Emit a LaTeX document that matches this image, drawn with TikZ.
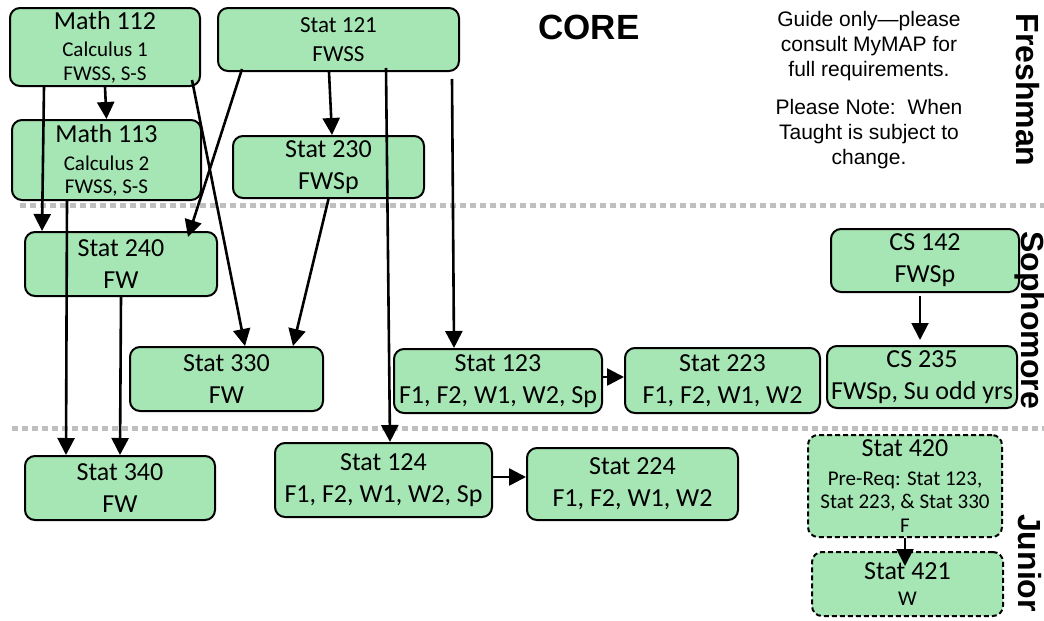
\documentclass[tikz,border=0pt]{standalone}
\usepackage{fontspec}
\setmainfont{Carlito}
\newfontfamily\arialfont{Liberation Sans}
\usepackage{xcolor}
\definecolor{boxgreen}{RGB}{166,230,180}
\definecolor{sepgray}{RGB}{191,191,191}
\usetikzlibrary{arrows.meta}
\newcommand{\crsfont}{\fontsize{26}{32}\selectfont}
\newcommand{\smlfont}{\fontsize{21}{25}\selectfont}

\begin{document}
\begin{tikzpicture}[x=1pt, y=-1pt,
            course/.style = {draw,
            line width=2pt,
            rounded corners=10pt,
            fill=boxgreen,
            align=center, inner sep=0pt,
            font=\crsfont},
            elective/.style = {course, dash pattern=on 5pt off 3pt},
            prereq/.style = {line width=2.6pt, -{Triangle[length=17pt,width=17pt]}},
            yearsep/.style = {sepgray, line width=5pt, dash pattern=on 6pt off 4pt},
            year/.style = {font=\arialfont\bfseries\fontsize{32}{32}\selectfont, rotate=-90}]
        \useasboundingbox (0,0) rectangle (1044,621);

        % Year separators
        \draw[yearsep] (20,205) -- (1044,205);
        \draw[yearsep] (12,428) -- (1044,428);

        % Freshman
        \node[course, minimum width=190pt, minimum height=78pt] (m112) at (105,47)
            {Math 112\\[-5pt]{\smlfont Calculus 1}\\[-8pt]{\smlfont FWSS, S-S}};
        \node[course, minimum width=241pt, minimum height=63pt,
            font=\fontsize{23}{29}\selectfont] (s121) at (338.5,39.5) {Stat 121\\FWSS};
        \node[course, minimum width=189pt, minimum height=80pt] (m113) at (106.5,160)
            {Math 113\\[-4pt]{\smlfont Calculus 2}\\[-9pt]{\smlfont FWSS, S-S}};
        \node[course, minimum width=191pt, minimum height=62pt] (s230) at (328.5,167) {Stat 230\\FWSp};

        % Sophomore
        \node[course, minimum width=192pt, minimum height=64pt] (s240) at (121,264) {Stat 240\\FW};
        \node[course, minimum width=193pt, minimum height=64pt] (s330) at (226.5,379) {Stat 330\\FW};
        \node[course, minimum width=208pt, minimum height=64pt] (s123) at (498,381) {Stat 123\\F1, F2, W1, W2, Sp};
        \node[course, minimum width=195pt, minimum height=65pt] (s223) at (722.5,380.5) {Stat 223\\F1, F2, W1, W2};
        \node[course, minimum width=188pt, minimum height=63pt] (cs142) at (925,260.5) {CS 142\\FWSp};
        \node[course, minimum width=190pt, minimum height=62pt] (cs235) at (922,377) {CS 235\\FWSp, Su odd yrs};

        % Junior
        \node[course, minimum width=190pt, minimum height=64pt] (s340) at (120,488) {Stat 340\\FW};
        \node[course, minimum width=217pt, minimum height=74pt] (s124) at (383.5,480) {Stat 124\\F1, F2, W1, W2, Sp};
        \node[course, minimum width=211pt, minimum height=72pt] (s224) at (632.5,484) {Stat 224\\F1, F2, W1, W2};
        \node[elective, minimum width=194pt, minimum height=102pt] (s420) at (905,486)
            {Stat 420\\[-3pt]{\smlfont Pre-Req: Stat 123,}\\[-9pt]{\smlfont Stat 223, \& Stat 330}\\[-8pt]{\smlfont F}};
        \node[elective, minimum width=191pt, minimum height=64pt] (s421) at (907.5,584)
            {Stat 421\\[-6pt]{\smlfont W}};

        % Title and notes
        \node[font=\arialfont\bfseries\fontsize{35}{35}\selectfont] (core) at (589,27) {CORE};
        \node[font=\arialfont\fontsize{21}{25}\selectfont, align=center] (note1) at (869,46)
            {Guide only—please\\consult MyMAP for\\full requirements.};
        \node[font=\arialfont\fontsize{21}{25}\selectfont, align=center] (note2) at (869,134)
            {Please Note:\ \ When\\Taught is subject to\\change.};

        % Year labels
        \node[year] (fresh) at (1028,90) {Freshman};
        \node[year] (soph) at (1030,320) {Sophomore};
        \node[year] (jun) at (1030,563) {Junior};

        % Prerequisite arrows
        \draw[prereq] (m112.south) -- (m113.north);
        \draw[prereq] ([xshift=35pt]m112.south west) -- ([xshift=18pt]s240.north west);
        \draw[prereq] ([xshift=-9pt,yshift=7pt]m112.south east) -- ([xshift=18.5pt]s330.north);
        \draw[prereq] ([xshift=56pt]m113.south west) -- ([xshift=42pt]s340.north west);
        \draw[prereq] ([xshift=25pt,yshift=3pt]s121.south west) -- ([xshift=-30pt,yshift=-6pt]s240.north east);
        \draw[prereq] ([xshift=-9.5pt]s121.south) -- ([xshift=3.5pt]s230.north);
        \draw[prereq] ([xshift=47.5pt,yshift=4pt]s121.south) -- ([xshift=6.5pt]s124.north);
        \draw[prereq] ([xshift=-8pt,yshift=-7pt]s121.south east) -- ([xshift=-44pt]s123.north);
        \draw[prereq] (s230.south) -- ([xshift=-31pt]s330.north east);
        \draw[prereq] (s240.south) -- (s340.north);
        \draw[prereq] ([yshift=4pt]s123.east) -- ([yshift=4pt]s123.east -| s223.west);
        \draw[prereq] ([yshift=3pt]s124.east) -- ([yshift=3pt]s124.east -| s224.west);
        \draw[prereq, line width=2pt] ([xshift=-5pt,yshift=-3pt]cs142.south) -- ([xshift=-2pt,yshift=5pt]cs235.north);
        \draw[prereq, line width=2pt] (s420.south) -- ([xshift=-2.5pt,yshift=-15pt]s421.north);
    \end{tikzpicture}
\end{document}
